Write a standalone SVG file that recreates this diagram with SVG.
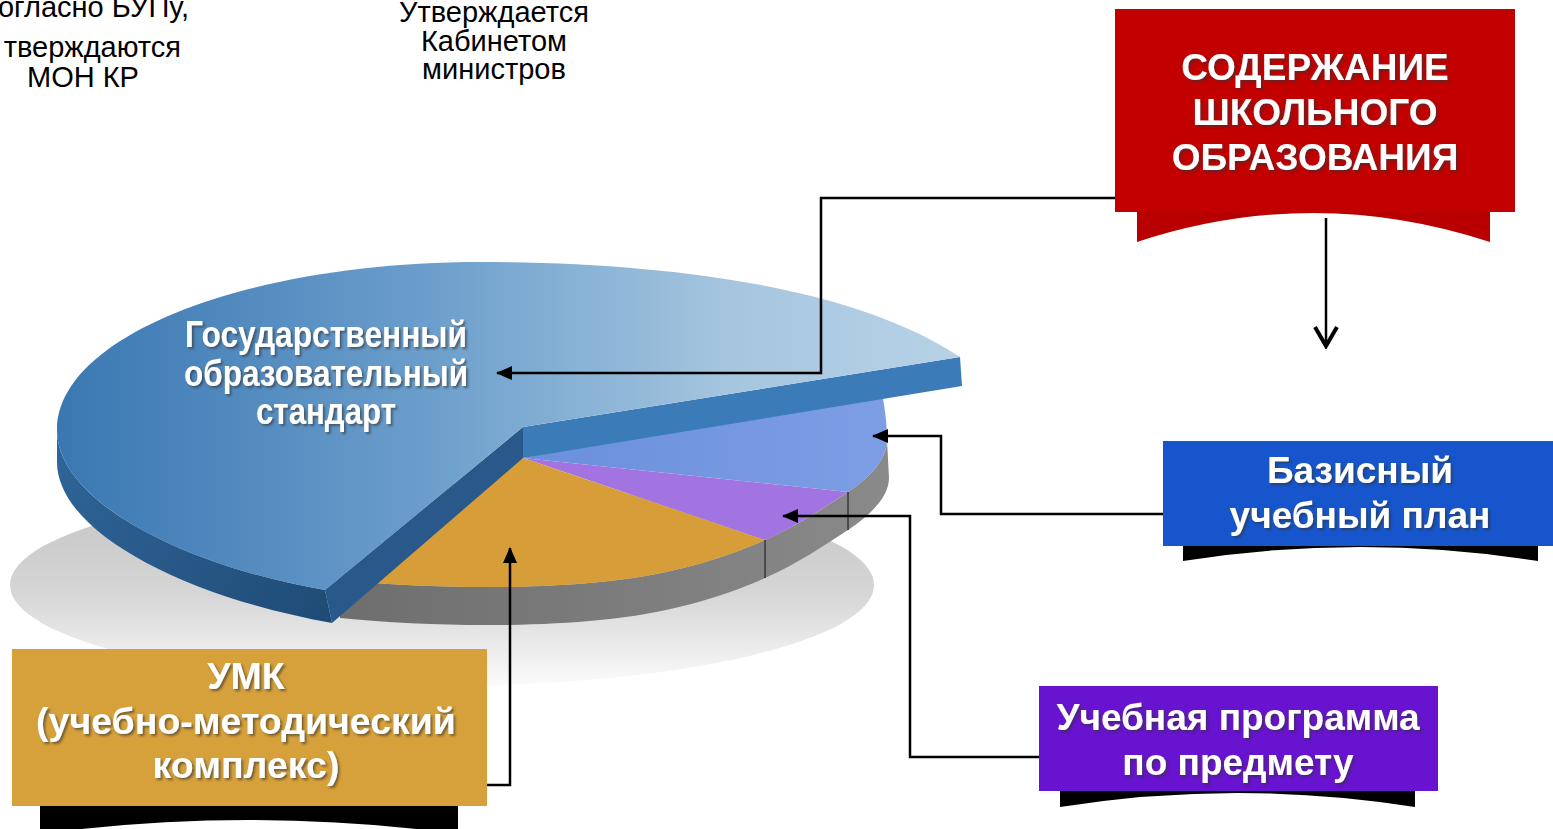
<svg xmlns="http://www.w3.org/2000/svg" width="1553" height="829" viewBox="0 0 1553 829">
<style>
.note{font-family:"Liberation Sans",Arial,sans-serif;font-size:29px;fill:#000}
.box{font-family:"Liberation Sans",Arial,sans-serif;font-weight:bold;fill:#fff;text-anchor:middle}
.face{font-family:"Liberation Sans Narrow","Liberation Sans",Arial,sans-serif;font-weight:bold;font-size:36px;fill:#fff;text-anchor:middle}
.con{fill:none;stroke:#000;stroke-width:2.5}
.tab{fill:#000}
</style>
<defs>
<linearGradient id="shadowG" x1="0" y1="0" x2="0" y2="1">
<stop offset="0" stop-color="#c2c2c2"/>
<stop offset="0.55" stop-color="#d6d6d6"/>
<stop offset="1" stop-color="#fbfbfb"/>
</linearGradient>
<linearGradient id="sideG" x1="0" y1="0" x2="1" y2="0">
<stop offset="0" stop-color="#6e6e6e"/>
<stop offset="1" stop-color="#8a8a8a"/>
</linearGradient>
<linearGradient id="faceG" gradientUnits="userSpaceOnUse" x1="57" y1="0" x2="960" y2="0">
<stop offset="0" stop-color="#3a77b2"/>
<stop offset="0.4" stop-color="#6a9dcb"/>
<stop offset="0.75" stop-color="#a6c6df"/>
<stop offset="1" stop-color="#b7d2e7"/>
</linearGradient>
<linearGradient id="outerG" gradientUnits="userSpaceOnUse" x1="57" y1="440" x2="330" y2="620">
<stop offset="0" stop-color="#2f6599"/>
<stop offset="1" stop-color="#1f4b76"/>
</linearGradient>
<linearGradient id="blueS" x1="0" y1="0" x2="1" y2="0">
<stop offset="0" stop-color="#6a8fdc"/>
<stop offset="1" stop-color="#7d9ee4"/>
</linearGradient>
<filter id="ts" x="-10%" y="-30%" width="120%" height="160%">
<feDropShadow dx="2" dy="2" stdDeviation="1.2" flood-color="#333" flood-opacity="0.6"/>
</filter>
<marker id="arr" viewBox="0 0 16 14" refX="15" refY="7" markerWidth="16" markerHeight="14" markerUnits="userSpaceOnUse" orient="auto">
<path d="M0,0 L16,7 L0,14 Z" fill="#000"/>
</marker>
<marker id="chev" viewBox="0 0 24 26" refX="21" refY="13" markerWidth="24" markerHeight="26" markerUnits="userSpaceOnUse" orient="auto">
<path d="M2,2 L21,13 L2,24" fill="none" stroke="#000" stroke-width="4"/>
</marker>
</defs>

<g id="notes">
<text class="note" x="189" y="17" text-anchor="end">огласно БУПу,</text>
<text class="note" x="181" y="57" text-anchor="end">тверждаются</text>
<text class="note" x="83" y="87" text-anchor="middle">МОН КР</text>
<text class="note" x="494" y="22" text-anchor="middle">Утверждается</text>
<text class="note" x="494" y="51" text-anchor="middle">Кабинетом</text>
<text class="note" x="494" y="79" text-anchor="middle">министров</text>
</g>

<g id="pie">
<ellipse cx="442" cy="585" rx="432" ry="101" fill="url(#shadowG)"/>
<path d="M887,440 C887,458 872,476 848,492 C825,507 797,526 765,540 C720,560 665,576 600,582 C520,590 420,588 340,580 L340,618 C420,626 520,628 600,620 C665,614 720,598 765,578 C797,564 825,545 848,530 C872,514 889,496 889,478 Z" fill="url(#sideG)"/>
<path d="M523,458 L880,385 C885,405 887,425 887,440 C887,458 872,476 848,492 Z" fill="url(#blueS)"/>
<path d="M523,458 L848,492 C825,507 797,526 765,540 Z" fill="#a274e2"/>
<path d="M523,458 L765,540 C720,560 665,576 600,582 C520,590 420,588 340,580 Z" fill="#d79d38"/>
<line x1="848" y1="492" x2="848" y2="530" stroke="#4a4a4a" stroke-width="2"/>
<line x1="765" y1="540" x2="765" y2="578" stroke="#4a4a4a" stroke-width="2"/>
<path d="M57,430 C57,500 180,565 325,590 L332,623 C185,597 57,532 57,462 Z" fill="url(#outerG)"/>
<path d="M523,427 L325,590 L332,623 L523,458 Z" fill="#28598a"/>
<path d="M523,427 L960,357 L962,386 L523,458 Z" fill="#3a7bb8"/>
<path d="M523,427 L960,357 C860,290 680,262 480,262 C250,262 57,335 57,430 C57,500 180,565 325,590 Z" fill="url(#faceG)"/>
<g filter="url(#ts)">
<text class="face" x="326" y="347" textLength="282" lengthAdjust="spacingAndGlyphs">Государственный</text>
<text class="face" x="326" y="386" textLength="284" lengthAdjust="spacingAndGlyphs">образовательный</text>
<text class="face" x="326" y="424" textLength="140" lengthAdjust="spacingAndGlyphs">стандарт</text>
</g>
</g>

<g id="connectors">
<polyline class="con" points="1115,198 821,198 821,373 497,373" marker-end="url(#arr)"/>
<line class="con" x1="1326" y1="218" x2="1326" y2="346" stroke-width="3.5" marker-end="url(#chev)"/>
<polyline class="con" points="1163,514 941,514 941,436 873,436" marker-end="url(#arr)"/>
<polyline class="con" points="1040,757 910,757 910,516 783,516" marker-end="url(#arr)"/>
<polyline class="con" points="487,785 510,785 510,548" marker-end="url(#arr)"/>
</g>

<g id="node-content">
<path d="M1137,205 L1490,205 L1490,242 Q1313,184 1137,242 Z" fill="#b80000"/>
<rect x="1115" y="9" width="400" height="203" fill="#c20000"/>
<g filter="url(#ts)">
<text class="box" x="1315" y="80" font-size="37">СОДЕРЖАНИЕ</text>
<text class="box" x="1315" y="125" font-size="37">ШКОЛЬНОГО</text>
<text class="box" x="1315" y="170" font-size="37">ОБРАЗОВАНИЯ</text>
</g>
</g>

<g id="node-plan">
<path class="tab" d="M1183,545 L1538,545 L1538,561 Q1360,533 1183,561 Z"/>
<rect x="1163" y="441" width="390" height="105" fill="#1655cc"/>
<g filter="url(#ts)">
<text class="box" x="1360" y="483" font-size="37">Базисный</text>
<text class="box" x="1360" y="528" font-size="37">учебный план</text>
</g>
</g>

<g id="node-program">
<path class="tab" d="M1060,790 L1415,790 L1415,807 Q1238,779 1060,807 Z"/>
<rect x="1039" y="686" width="399" height="105" fill="#6713cf"/>
<g filter="url(#ts)">
<text class="box" x="1238" y="730" font-size="37">Учебная программа</text>
<text class="box" x="1238" y="775" font-size="37">по предмету</text>
</g>
</g>

<g id="node-umk">
<path class="tab" d="M40,805 L458,805 L458,834 Q249,806 40,834 Z"/>
<rect x="12" y="649" width="475" height="157" fill="#d6a03a"/>
<g filter="url(#ts)">
<text class="box" x="246" y="689" font-size="37.5">УМК</text>
<text class="box" x="246" y="734" font-size="37.5">(учебно-методический</text>
<text class="box" x="246" y="778" font-size="37.5">комплекс)</text>
</g>
</g>
</svg>
